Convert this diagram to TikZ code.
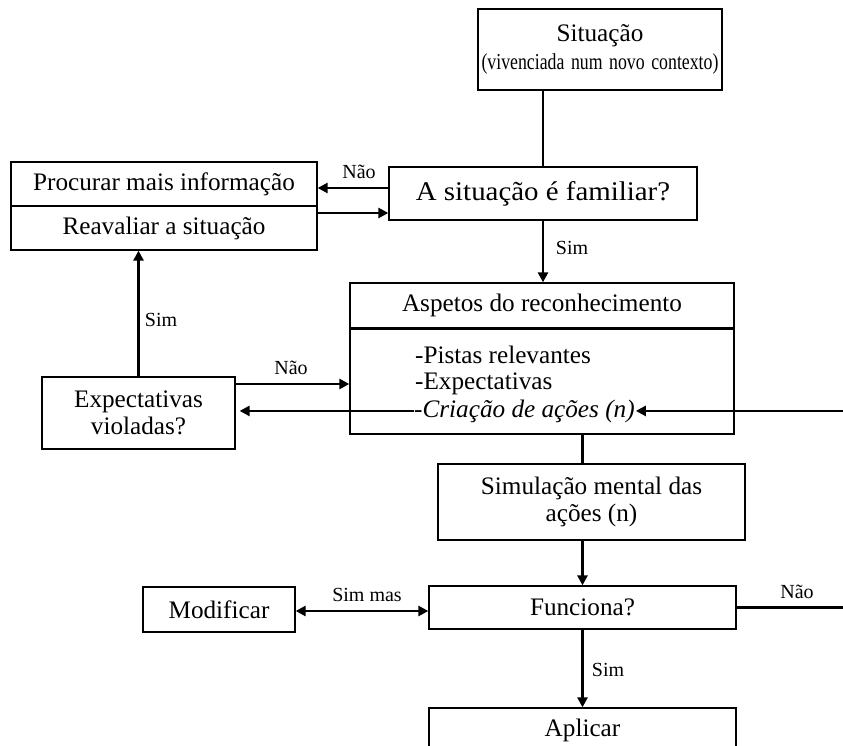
\documentclass[tikz,border=0pt]{standalone}
\usepackage{fontspec}
\setmainfont{Liberation Serif}
\usetikzlibrary{arrows.meta,calc}
\begin{document}
\begin{tikzpicture}[x=1pt,y=-1pt,
  box/.style={draw, line width=1.3pt, inner sep=0pt, align=center, font=\fontsize{25.2}{27.5}\selectfont},
  txt/.style={inner sep=0pt, font=\fontsize{25.2}{27.5}\selectfont},
  lbl/.style={inner sep=0pt, font=\fontsize{20}{22}\selectfont},
  conn/.style={line width=2.6pt},
  arr/.style={conn, -{Triangle[length=10pt,width=10pt]}},
  darr/.style={conn, {Triangle[length=10pt,width=10pt]}-{Triangle[length=10pt,width=10pt]}}]
\fill[white] (0,0) rectangle (843,746);
\useasboundingbox (0,0) rectangle (843,746);
\path (843,0) coordinate (redge);

% boxes
\node[box, minimum width=244pt, minimum height=81pt, text width=240pt] (sit) at (600,49.5)
  {Situação\\\scalebox{0.78}[1]{\fontsize{22.8}{27.5}\selectfont(vivenciada num novo contexto)}};
\node[box, minimum width=308pt, minimum height=53pt] (fam) at (543,193.5)
  {\scalebox{1.07}[1]{\fontsize{27}{30}\selectfont A situação é familiar?}};
\node[box, minimum width=306pt, minimum height=44pt] (proc) at (164,184) {Procurar mais informação};
\node[box, minimum width=306pt, minimum height=44pt] (reav) at (164,228) {Reavaliar a situação};
\node[box, minimum width=384pt, minimum height=106pt] (aspb) at (542,381) {};
\node[box, minimum width=384pt, minimum height=45pt] (asp) at (542,305.5) {Aspetos do reconhecimento};
\draw[line width=2.6pt] (asp.south west) -- (asp.south east);
\node[txt, anchor=base west] (pistas) at (415,363) {-Pistas relevantes};
\node[txt, anchor=base west] (expec) at (415,389) {-Expectativas};
\node[txt, anchor=base west] (criacao) at (414,417) {-\textit{Criação de ações (n)}};
\node[box, minimum width=193pt, minimum height=72pt] (exv) at (138.5,413) {Expectativas\\violadas?};
\node[box, minimum width=307pt, minimum height=76pt] (sim) at (591.5,502) {Simulação mental das\\ações (n)};
\node[box, minimum width=307pt, minimum height=43pt] (func) at (582.5,607.5) {Funciona?};
\node[box, minimum width=152pt, minimum height=45pt] (mod) at (219,609.5) {Modificar};
\node[box, minimum width=307pt, minimum height=44pt] (apl) at (582.5,730) {Aplicar};

\coordinate (r1) at (criacao.east -| redge);
\coordinate (r2) at (func.east -| redge);

% connectors
\draw[conn] (sit.south -| fam.north) -- (fam.north);
\draw[arr] ([yshift=5.5pt]fam.west) -- ([yshift=5.5pt]fam.west -| proc.east);
\draw[arr] ([yshift=15pt]reav.east) -- ([yshift=15pt]reav.east -| fam.west);
\draw[arr] (fam.south) -- (fam.south |- asp.north);
\draw[arr] (exv.north) -- (exv.north |- reav.south);
\draw[arr] ([yshift=29pt]exv.east) -- ([yshift=29pt]exv.east -| aspb.west);
\draw[arr, shorten >=4pt] (criacao.west) -- (criacao.west -| exv.east);
\draw[arr, shorten >=1pt] (r1) -- (criacao.east);
\draw[conn] (aspb.south -| func.north) -- (sim.north -| func.north);
\draw[arr] (sim.south -| func.north) -- (func.north);
\draw[darr] ([yshift=-1.5pt]mod.east) -- ([yshift=-1.5pt]mod.east -| func.west);
\draw[conn] (func.east) -- (r2);
\draw[arr] (func.south) -- (apl.north);

% labels
\node[lbl] (l1) at (359,172) {Não};
\node[lbl] (l2) at (572,248) {Sim};
\node[lbl] (l3) at (161,320) {Sim};
\node[lbl] (l4) at (291,368) {Não};
\node[lbl] (l5) at (367,595) {Sim mas};
\node[lbl] (l6) at (797,592) {Não};
\node[lbl] (l7) at (608,670) {Sim};
\end{tikzpicture}
\end{document}
